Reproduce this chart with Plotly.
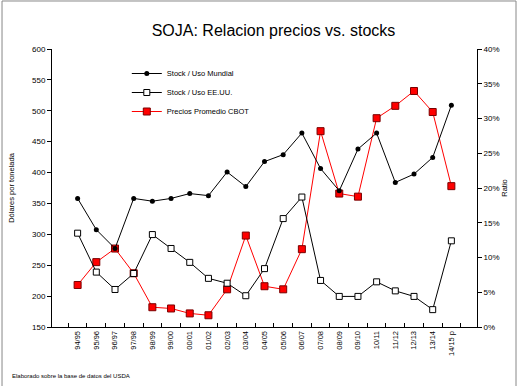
import plotly.graph_objects as go

campanias = ["94/95", "95/96", "96/97", "97/98", "98/99", "99/00", "00/01", "01/02",
             "02/03", "03/04", "04/05", "05/06", "06/07", "07/08", "08/09", "09/10",
             "10/11", "11/12", "12/13", "13/14", "14/15 p"]

stock_uso_mundial = [0.185, 0.140, 0.113, 0.185, 0.181, 0.185, 0.192, 0.189,
                     0.223, 0.202, 0.238, 0.248, 0.279, 0.228, 0.196, 0.256,
                     0.279, 0.208, 0.220, 0.244, 0.319]

stock_uso_eeuu = [0.135, 0.079, 0.054, 0.077, 0.133, 0.113, 0.093, 0.070,
                  0.063, 0.045, 0.084, 0.156, 0.187, 0.067, 0.044, 0.044,
                  0.065, 0.052, 0.044, 0.025, 0.124]

precios_cbot = [218, 255, 277, 237, 182, 180, 172, 169, 211, 298, 216, 211,
                276, 467, 366, 361, 488, 508, 532, 498, 378]

FONT = "Liberation Sans, Arial, sans-serif"

fig = go.Figure()

fig.add_trace(go.Scatter(
    x=campanias, y=stock_uso_mundial, name="Stock / Uso Mundial",
    mode="lines+markers", yaxis="y2",
    line=dict(color="black", width=1),
    marker=dict(symbol="circle", size=5, color="black"),
))
fig.add_trace(go.Scatter(
    x=campanias, y=stock_uso_eeuu, name="Stock / Uso EE.UU.",
    mode="lines+markers", yaxis="y2",
    line=dict(color="black", width=1),
    marker=dict(symbol="square", size=6, color="white", line=dict(color="black", width=1)),
))
fig.add_trace(go.Scatter(
    x=campanias, y=precios_cbot, name="Precios Promedio CBOT",
    mode="lines+markers", yaxis="y",
    line=dict(color="#FF0000", width=1),
    marker=dict(symbol="square", size=7, color="#FF0000", line=dict(color="#7a0000", width=1)),
))

fig.update_layout(
    width=519, height=386,
    margin=dict(l=52, r=42, t=49, b=59),
    paper_bgcolor="white", plot_bgcolor="white",
    font=dict(family=FONT, color="black", size=8),
    title=dict(text="SOJA: Relacion precios vs. stocks", x=0.527, xanchor="center",
               y=0.922, yanchor="middle", font=dict(size=16, family=FONT, color="black")),
    showlegend=True,
    legend=dict(x=0.176, y=0.964, xanchor="left", yanchor="top",
                bgcolor="rgba(0,0,0,0)", font=dict(size=7.5, family=FONT),
                itemwidth=30, tracegroupgap=0),
    xaxis=dict(type="category", showline=True, linecolor="black", linewidth=1,
               ticks="inside", ticklen=4, tickcolor="black", tickson="boundaries",
               tickangle=-90, tickfont=dict(size=7.5), showgrid=False, zeroline=False,
               automargin=False),
    yaxis=dict(range=[150, 600], dtick=50, showline=True, linecolor="black", linewidth=1,
               ticks="outside", ticklen=4, tickcolor="black", showgrid=False, zeroline=False,
               tickfont=dict(size=8), automargin=False,
               title=dict(text="Dólares por tonelada", font=dict(size=7.5), standoff=16)),
    yaxis2=dict(range=[0, 0.40], dtick=0.05, tickformat=".0%", overlaying="y", side="right",
                showline=True, linecolor="black", linewidth=1, ticks="outside", ticklen=4,
                tickcolor="black", showgrid=False, zeroline=False, tickfont=dict(size=8),
                automargin=False,
                title=dict(text="Ratio", font=dict(size=7.5), standoff=2)),
    shapes=[dict(type="rect", xref="paper", yref="paper",
                 x0=-0.1176, x1=1.0918, y0=-0.23, y1=1.1727,
                 line=dict(color="#888888", width=1), fillcolor="rgba(0,0,0,0)")],
    annotations=[dict(text="Elaborado sobre la base de datos del USDA", xref="paper", yref="paper",
                      x=-0.099, y=-0.176, xanchor="left", yanchor="middle", showarrow=False,
                      font=dict(size=6, family=FONT))],
)

fig.write_html("out.html", config={"displayModeBar": False},
               post_script="document.body.style.margin='0px';document.body.style.overflow='hidden';")
